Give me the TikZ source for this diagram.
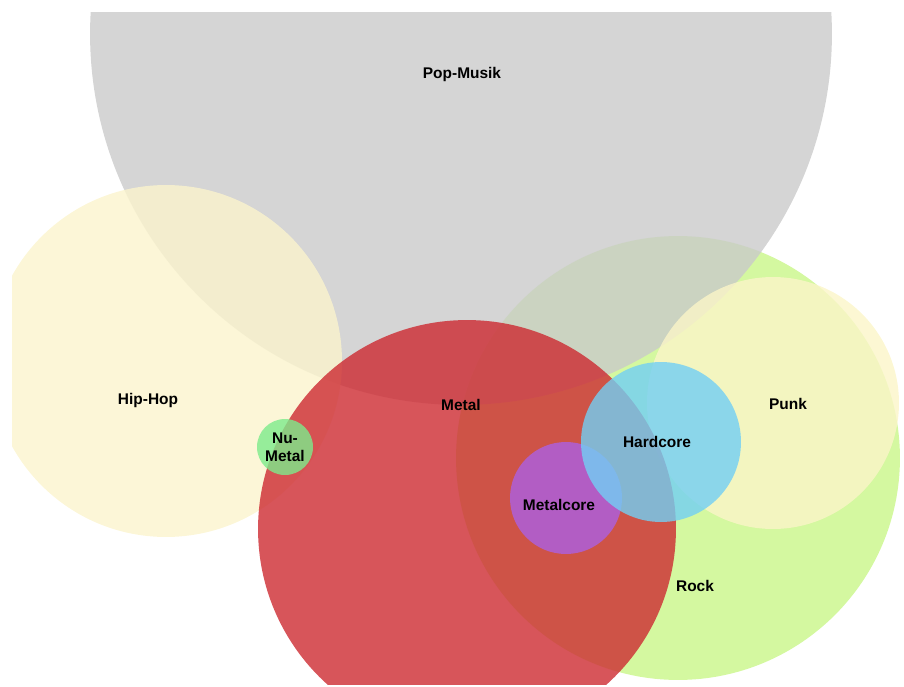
\documentclass[tikz,border=0pt]{standalone}
\usepackage{fontspec}
\setmainfont{Liberation Sans}
\usepackage{tikz}

\definecolor{popgray}{RGB}{202,202,202}
\definecolor{hiphopcream}{RGB}{251,244,205}
\definecolor{rockgreen}{RGB}{201,246,136}
\definecolor{punkcream}{RGB}{251,245,200}
\definecolor{metalred}{RGB}{205,42,49}
\definecolor{metalcorepurple}{RGB}{171,97,228}
\definecolor{hardcoreblue}{RGB}{114,207,245}
\definecolor{numetalgreen}{RGB}{125,235,140}

\begin{document}
\begin{tikzpicture}[x=0.02cm,y=-0.02cm,
        genre/.style={fill opacity=0.8},
        lbl/.style={font=\fontsize{8.8}{10.5}\selectfont\bfseries,text=black,align=center,inner sep=0pt}]

  \useasboundingbox (0,0) rectangle (904,687);
  \begin{scope}
  \clip (12,12) rectangle (904,684);

  \fill[genre,rockgreen] (678,458) circle (4.44cm);
  \fill[genre,popgray] (461,34) circle (7.42cm);
  \fill[genre,hiphopcream] (166,361) circle (3.52cm);
  \fill[genre,punkcream] (773,403) circle (2.52cm);
  \fill[genre,metalred] (467,529) circle (4.18cm);
  \fill[genre,metalcorepurple] (566,498) circle (1.12cm);
  \fill[genre,hardcoreblue] (661,442) circle (1.6cm);
  \fill[genre,numetalgreen] (285,447) circle (0.56cm);
  \end{scope}

  \node[lbl] (pop) at (462,74) {Pop-Musik};
  \node[lbl] (hiphop) at (148,400) {Hip-Hop};
  \node[lbl] (metal) at (461,405) {Metal};
  \node[lbl] (punk) at (788,404) {Punk};
  \node[lbl] (hardcore) at (657,442) {Hardcore};
  \node[lbl] (metalcore) at (559,505) {Metalcore};
  \node[lbl] (rock) at (695,586) {Rock};
  \node[lbl] (numetal) at (285,447) {Nu-\\Metal};

\end{tikzpicture}
\end{document}
